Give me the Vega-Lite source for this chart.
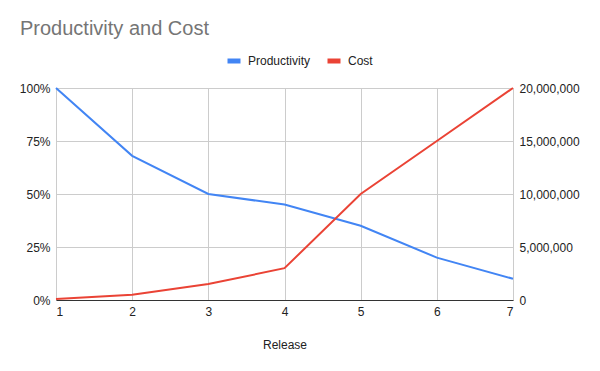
{
  "$schema": "https://vega.github.io/schema/vega-lite/v6.json",
  "width": 457,
  "height": 212,
  "autosize": {"type": "none"},
  "padding": {"left": 56, "top": 88, "right": 87, "bottom": 71},
  "background": "white",
  "title": {
    "text": "Productivity and Cost",
    "anchor": "start",
    "frame": "group",
    "dx": -36,
    "dy": -9,
    "fontSize": 20,
    "fontWeight": "normal",
    "color": "#757575",
    "font": "Liberation Sans"
  },
  "data": {
    "values": [
      {"release": 1, "productivity": 1.00, "cost": 100000},
      {"release": 2, "productivity": 0.68, "cost": 500000},
      {"release": 3, "productivity": 0.50, "cost": 1500000},
      {"release": 4, "productivity": 0.45, "cost": 3000000},
      {"release": 5, "productivity": 0.35, "cost": 10000000},
      {"release": 6, "productivity": 0.20, "cost": 15000000},
      {"release": 7, "productivity": 0.10, "cost": 20000000}
    ]
  },
  "encoding": {
    "x": {
      "field": "release",
      "type": "quantitative",
      "scale": {"domain": [1, 7], "nice": false, "zero": false},
      "axis": {
        "values": [1, 2, 3, 4, 5, 6, 7],
        "format": "d",
        "title": "Release",
        "grid": true,
        "gridColor": "#cccccc",
        "domain": true,
        "domainColor": "#333333",
        "domainWidth": 1,
        "ticks": false,
        "labelPadding": 6,
        "titlePadding": 22
      }
    }
  },
  "layer": [
    {
      "mark": {"type": "line", "strokeWidth": 2},
      "encoding": {
        "y": {
          "field": "productivity",
          "type": "quantitative",
          "scale": {"domain": [0, 1], "nice": false},
          "axis": {
            "orient": "left",
            "values": [0, 0.25, 0.5, 0.75, 1],
            "format": ".0%",
            "title": null,
            "grid": true,
            "gridColor": "#cccccc",
            "domain": false,
            "ticks": false,
            "labelPadding": 6
          }
        },
        "color": {
          "datum": "Productivity",
          "type": "nominal",
          "scale": {"domain": ["Productivity", "Cost"], "range": ["#4285F4", "#EA4335"]},
          "legend": {
            "orient": "none",
            "direction": "horizontal",
            "legendX": 169,
            "legendY": -36,
            "title": null,
            "symbolType": "M-1,0H1",
            "symbolSize": 169,
            "symbolStrokeWidth": 5,
            "labelFontSize": 12,
            "labelOffset": 5,
            "columnPadding": 6
          }
        }
      }
    },
    {
      "mark": {"type": "line", "strokeWidth": 2},
      "encoding": {
        "y": {
          "field": "cost",
          "type": "quantitative",
          "scale": {"domain": [0, 20000000], "nice": false},
          "axis": {
            "orient": "right",
            "values": [0, 5000000, 10000000, 15000000, 20000000],
            "format": ",d",
            "title": null,
            "grid": false,
            "domain": false,
            "ticks": false,
            "labelPadding": 6
          }
        },
        "color": {"datum": "Cost", "type": "nominal"}
      }
    }
  ],
  "resolve": {"scale": {"y": "independent"}},
  "config": {
    "font": "Liberation Sans",
    "view": {"stroke": null},
    "axis": {
      "labelFontSize": 12,
      "labelColor": "#222222",
      "titleFontSize": 12,
      "titleFontWeight": "normal",
      "titleColor": "#222222"
    },
    "legend": {"labelColor": "#222222"}
  }
}
